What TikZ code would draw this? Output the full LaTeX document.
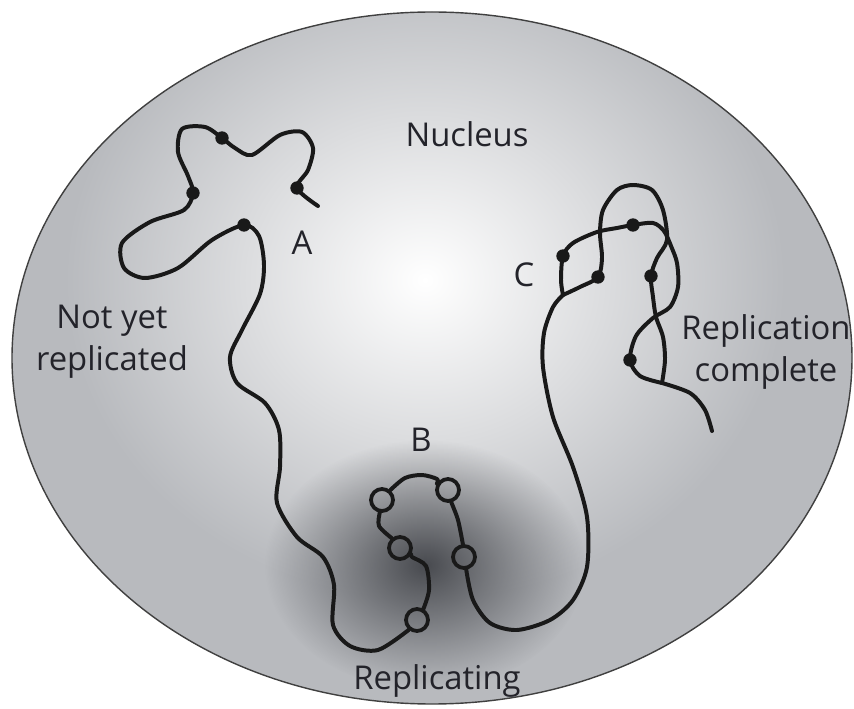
\documentclass[tikz,border=0pt]{standalone}
\usepackage{fontspec}
\setmainfont{Open Sans}
\usetikzlibrary{fadings}
\definecolor{rimgrey}{RGB}{184,186,190}
\definecolor{spotgrey}{RGB}{72,74,79}
\definecolor{inkgrey}{RGB}{35,35,42}
\tikzfading[name=spotfade, inner color=transparent!0, outer color=transparent!100]

\begin{document}
\begin{tikzpicture}[x=0.03cm, y=-0.03cm,
    strand/.style={line width=3.4pt, line cap=round, line join=round, black!90},
    dot/.style={circle, fill=black!90, inner sep=0pt, minimum size=0.4cm},
    bubble/.style={circle, draw=black!90, line width=3.2pt, inner sep=0pt, minimum size=0.66cm},
    label/.style={inkgrey, font=\fontsize{28}{36}\selectfont, align=center}]
  \useasboundingbox (0,0) rectangle (854,709);

  % nucleus with its light centre and dark patch
  \begin{scope}
    \clip (432,358) ellipse (420 and 346);
    \fill[rimgrey] (0,0) rectangle (854,709);
    \shade[inner color=white, outer color=rimgrey] (425,280) ellipse (360 and 320);
    \fill[spotgrey, path fading=spotfade] (425,565) ellipse (160 and 125);
  \end{scope}
  \draw[line width=1.2pt, black!75] (432,358) ellipse (420 and 346);

  % origins and bubbles
  \path
    (318,206) coordinate (e1)
    (297,188) node[dot] (d1){}
    (222,138) node[dot] (d2){}
    (193,193) node[dot] (d3){}
    (244,225) node[dot] (d4){}
    (417,620) node[bubble] (b1){}
    (400,548) node[bubble] (b2){}
    (382,500) node[bubble] (b3){}
    (448,490) node[bubble] (b4){}
    (464,557) node[bubble] (b5){}
    (563,295) coordinate (f1)
    (563,256) node[dot] (c1){}
    (633,225) node[dot] (c2){}
    (630,360) node[dot] (c3){}
    (598,277) node[dot] (c4){}
    (651,276) node[dot] (c5){}
    (662,383) coordinate (f2)
    (712,431) coordinate (e2);

  \begin{scope}[strand]
    \draw plot[smooth] coordinates {(e1) (d1.center) (308,170) (313,148) (302,132)
      (280,135) (252,155) (235,148) (d2.center) (205,127) (182,129) (178,152)
      (188,176) (d3.center) (184,210) (150,222) (122,243) (124,268) (145,278)
      (178,268) (212,240) (d4.center) (259,236) (264,265) (260,294) (242,330)
      (230,357) (237,383) (265,403) (279,430) (280,467) (277,503) (297,537)
      (323,557) (334,585) (333,625) (350,646) (378,650) (b1.230)};
    \draw plot[smooth] coordinates {(b1.60) (429,590) (426,566) (412,557) (b2.-30)};
    \draw plot[smooth] coordinates {(b2.130) (379,526) (b3.-100)};
    \draw plot[smooth] coordinates {(b3.50) (405,478) (422,475) (437,479) (b4.150)};
    \draw plot[smooth] coordinates {(b4.-75) (458,520) (b5.95)};
    \draw plot[smooth] coordinates {(b5.-80) (473,600) (490,623) (517,630) (550,620)
      (573,600) (587,567) (587,517) (573,467) (553,417) (543,367) (544,333)
      (553,307) (f1)};
    \draw plot[smooth] coordinates {(f1) (561,280) (c1.center) (573,243) (597,232)
      (617,228) (c2.center) (653,223) (664,231) (671,246) (677,263) (678,287)
      (670,307) (653,318) (636,336) (c3.center) (640,376) (f2)};
    \draw plot[smooth] coordinates {(f1) (580,287) (c4.center) (602,258) (600,233)
      (603,210) (617,190) (633,185) (652,190) (663,210) (667,240) (657,258)
      (c5.center) (653,297) (656,317) (663,337) (665,360) (f2)};
    \draw plot[smooth] coordinates {(f2) (690,393) (705,410) (e2)};
  \end{scope}

  % labels
  \node[label, anchor=base] (nucleus) at (467,147) {Nucleus};
  \node[label, anchor=base] (la) at (302,255) {A};
  \node[label, anchor=base] (lb) at (421,452) {B};
  \node[label, anchor=base] (lc) at (524,287) {C};
  \node[label] (notyet) at (112,342) {Not yet\\replicated};
  \node[label] (done) at (766,352) {Replication\\complete};
  \node[label, anchor=base] (replicating) at (437,689) {Replicating};
\end{tikzpicture}
\end{document}
